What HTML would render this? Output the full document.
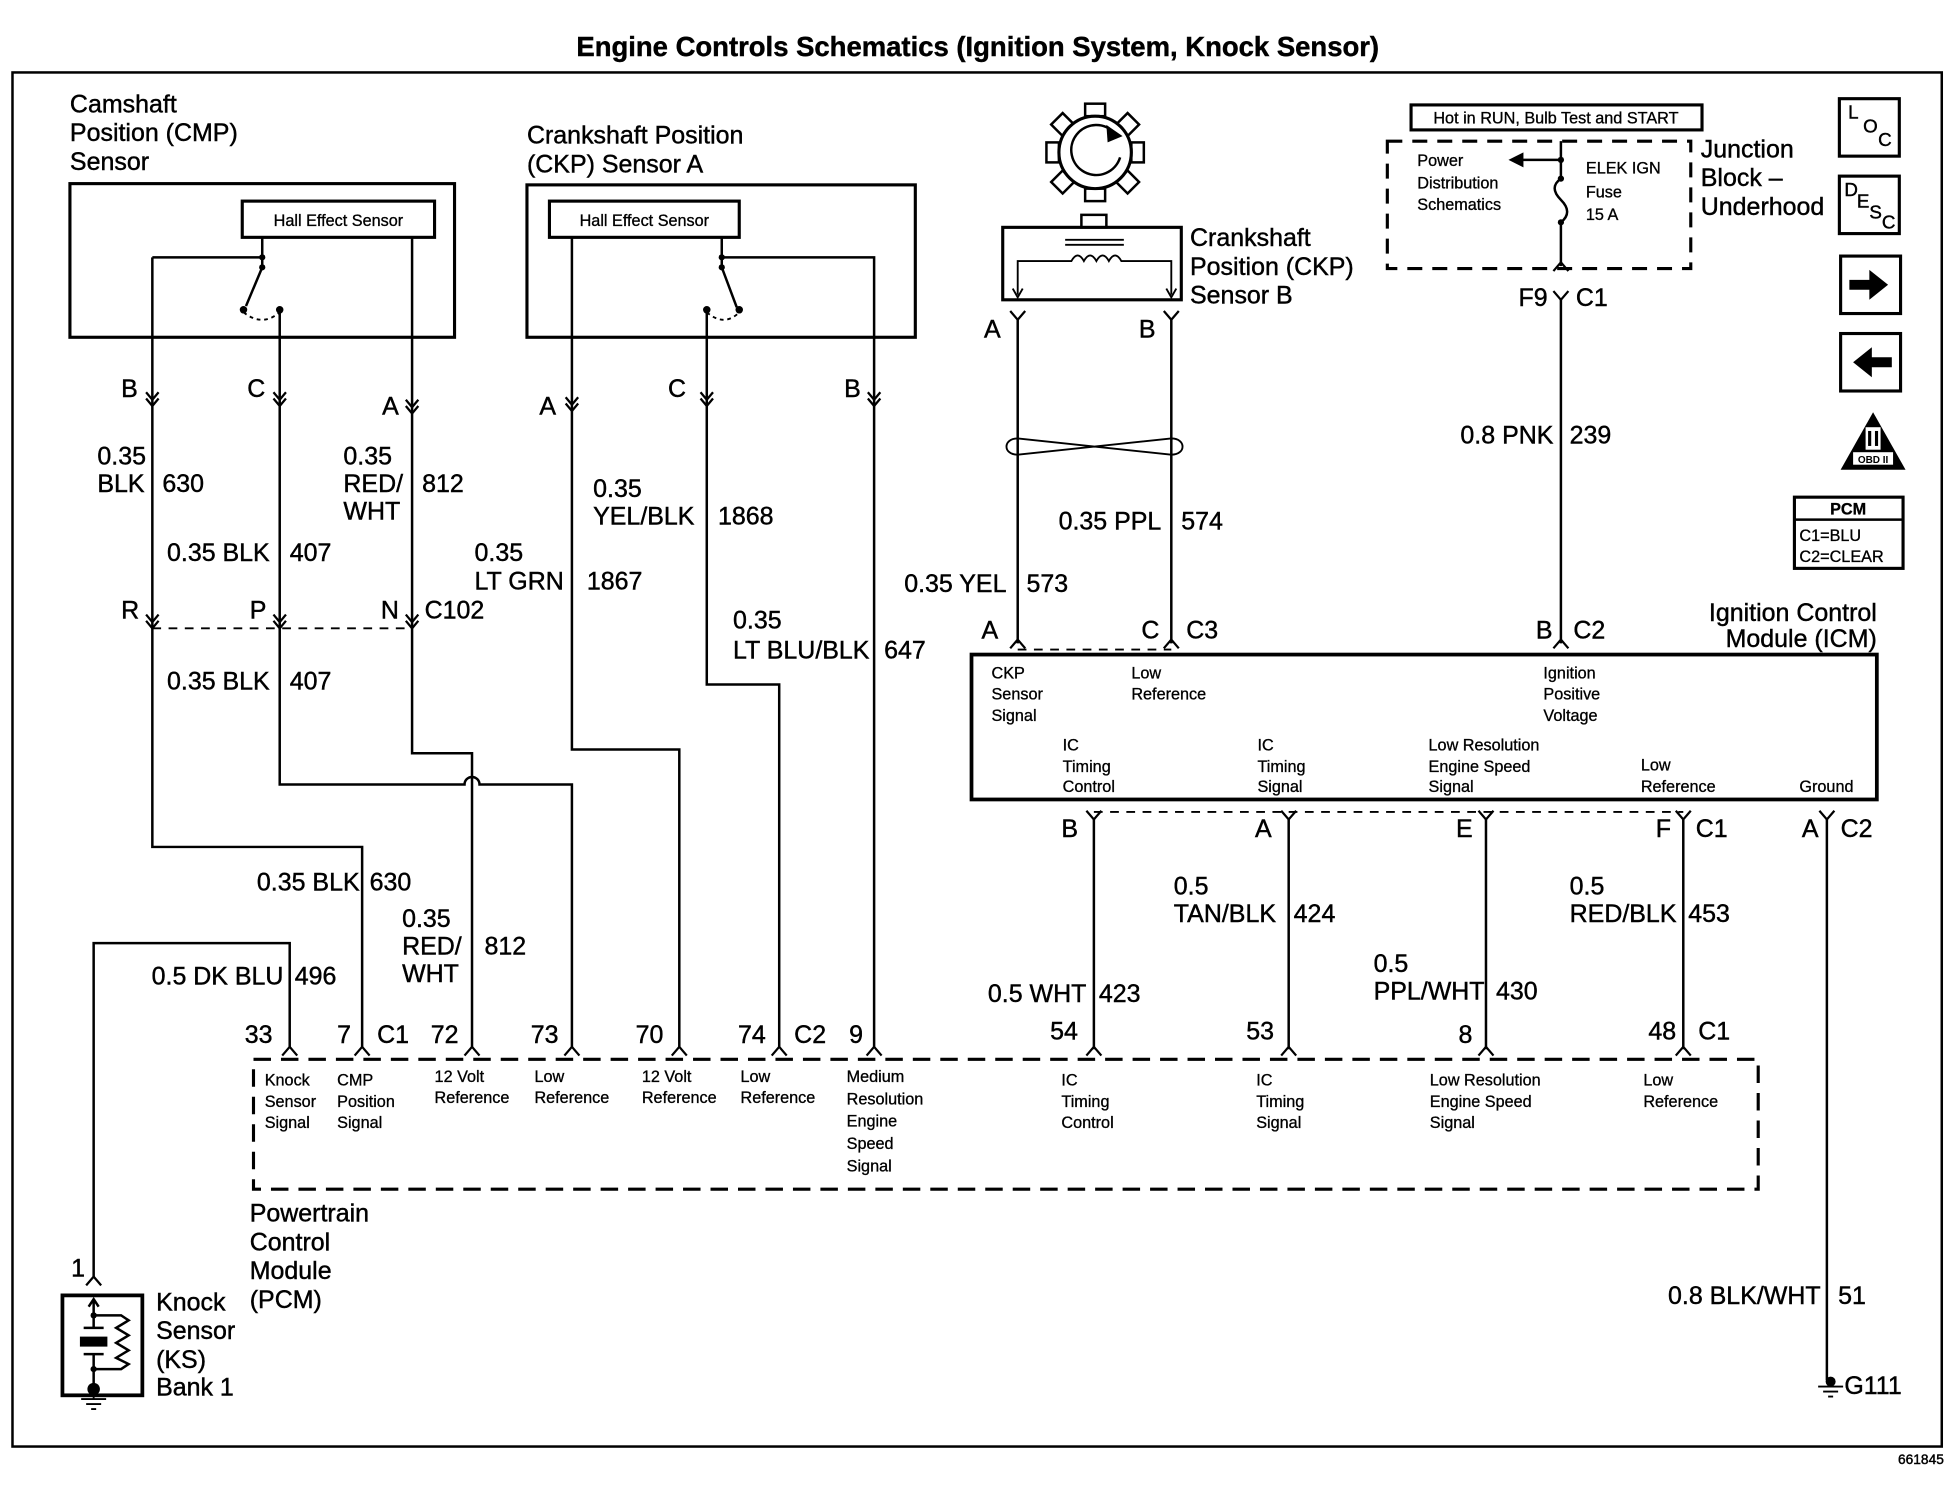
<!DOCTYPE html>
<html><head><meta charset="utf-8"><style>
html,body{margin:0;padding:0;background:#fff;}
svg{display:block;}
text{font-family:"Liberation Sans",Arial,sans-serif;fill:#000;stroke:#000;stroke-width:0.35px;}
.l{font-size:20px;}
.s{font-size:13px;}
.s text{stroke-width:0.25px;}
.e{text-anchor:end;}
</style></head><body>
<svg width="1958" height="1504" viewBox="0 0 1568 1204" preserveAspectRatio="none" xmlns="http://www.w3.org/2000/svg">
<defs>
<path id="dc" d="M-5,-8 L0,-2 L5,-8 M-5,-3 L0,3 L5,-3" fill="none" stroke="#000" stroke-width="1.8"/>
<path id="iv" d="M-6,7 L0,0 L6,7" fill="none" stroke="#000" stroke-width="1.8"/>
<path id="yy" d="M-6,-7 L0,0 L6,-7" fill="none" stroke="#000" stroke-width="1.8"/>
</defs>
<rect width="1568" height="1204" fill="#fff"/>
<text x="783" y="45" text-anchor="middle" style="font-size:22px;font-weight:bold">Engine Controls Schematics (Ignition System, Knock Sensor)</text>
<rect x="10" y="58" width="1545" height="1100" fill="none" stroke="#000" stroke-width="2"/>
<text x="1520" y="1172" style="font-size:11px">661845</text>

<g fill="none" stroke="#000" stroke-width="2">
<rect x="56" y="147" width="308" height="123" stroke-width="2.5"/>
<rect x="194" y="161" width="154" height="29" stroke-width="2.5"/>
<path d="M122,206 H210 M210,190 V214 L197,245 M224,248 V628 H372 A6,6 0 0 1 384,628 H458 V838 M330,190 V603 H378 V838 M122,206 V678 H290 V838"/>
<path d="M195,250 Q210,262 224,250" stroke-dasharray="3,3" stroke-width="1.5"/>
<path d="M122,503 H330" stroke-dasharray="7,6" stroke-width="1.5"/>
<rect x="422" y="148" width="311" height="122" stroke-width="2.5"/>
<rect x="440" y="161" width="152" height="29" stroke-width="2.5"/>
<path d="M458,190 V600 H544 V838 M578,190 V214 L590,246 M578,206 H700 V838 M566,248 V548 H624 V838"/>
<path d="M566,250 Q580,262 592,250" stroke-dasharray="3,3" stroke-width="1.5"/>
<path d="M232,838 V755 H75 V1022"/>
<rect x="803" y="182" width="143" height="58" stroke-width="2.5"/>
<rect x="866" y="172" width="20" height="10" stroke-width="2"/>
<path d="M853,192 H900 M853,196 H900" stroke-width="1.5"/>
<path d="M815,236 V209 H858 Q863,200 868,209 Q873,200 878,209 Q883,200 888,209 Q893,200 898,209 H938 V236" stroke-width="1.5"/>
<path d="M811,231 L815,238 L819,231 M934,231 L938,238 L942,231" stroke-width="1.5"/>
<path d="M815,256 V515 M938,256 V515"/>
<path d="M815,351 L938,364 M815,364 L938,351 M815,351 C803,351 803,364 815,364 M938,351 C950,351 950,364 938,364" stroke-width="1.5"/>
<path d="M815,520 H938" stroke-dasharray="7,6" stroke-width="1.5"/>
<rect x="778" y="524" width="725" height="116" stroke-width="3"/>
<path d="M876,655 V840 M1032,655 V840 M1190,655 V840 M1348,655 V840 M1463,655 V1105"/>
<path d="M876,650 H1348" stroke-dasharray="7,6" stroke-width="1.5"/>
<rect x="1130" y="84" width="233" height="20" stroke-width="2.5"/>
<rect x="1111" y="113" width="243" height="102" stroke-dasharray="12,8" stroke-width="2.5"/>
<path d="M1250,113 V143 Q1240,150 1250,160 Q1260,170 1250,178 V213 M1250,128 H1216"/>
<path d="M1250,240 V515"/>
<rect x="203" y="848" width="1205" height="104" stroke-dasharray="14,8" stroke-width="2.5"/>
<rect x="1473" y="79" width="48" height="46" stroke-width="2.5"/>
<rect x="1473" y="141" width="48" height="46" stroke-width="2.5"/>
<rect x="1474" y="205" width="48" height="46" stroke-width="2.5"/>
<rect x="1474" y="267" width="48" height="46" stroke-width="2.5"/>
<rect x="1437" y="398" width="87" height="57" stroke-width="2.5"/>
<path d="M1437,416 H1524" stroke-width="2"/>
<rect x="50" y="1037" width="64" height="80" stroke-width="3"/>
<path d="M75,1041 V1053 H97 L103,1057 L93,1063 L103,1069 L93,1075 L103,1081 L93,1087 L103,1092 L97,1096 H75 V1112 M75,1053 V1063 M67,1063 H83 M67,1084 H83 M75,1084 V1096 M71,1046 L75,1040 L79,1046"/>
<path d="M75,1115 V1120 M65,1120 H85 M69,1124 H81 M73,1128 H77" stroke-width="1.5"/>
<path d="M1466,1106 V1110 M1456,1110 H1476 M1460,1114 H1472 M1464,1118 H1468" stroke-width="1.5"/>
</g>
<g fill="#000">
<circle cx="210" cy="206" r="2.5"/><circle cx="210" cy="214" r="2.5"/><circle cx="195" cy="248" r="3"/><circle cx="224" cy="248" r="3"/>
<circle cx="578" cy="206" r="2.5"/><circle cx="578" cy="214" r="2.5"/><circle cx="592" cy="248" r="3"/><circle cx="566" cy="248" r="3"/>
<circle cx="1250" cy="128" r="2.5"/><circle cx="1250" cy="143" r="2.5"/><circle cx="1250" cy="178" r="2.5"/>
<path d="M1208,128 L1220,122 L1220,134 Z"/>
<rect x="64" y="1070" width="22" height="8"/>
<circle cx="75" cy="1053" r="2.5"/><circle cx="75" cy="1096" r="2.5"/><circle cx="75" cy="1112" r="5"/>
<circle cx="1466" cy="1106" r="4"/>
<path d="M1481,224 H1497 V216 L1512,228 L1497,240 V232 H1481 Z"/>
<path d="M1515,286 H1499 V278 L1484,290 L1499,302 V294 H1515 Z"/>
<path d="M1500,330 L1474,376 L1526,376 Z"/>
</g>
<g fill="#fff" stroke="#000" stroke-width="2">
<rect x="869" y="83" width="16" height="10"/><rect x="869" y="151" width="16" height="10"/>
<rect x="838" y="114" width="10" height="16"/><rect x="906" y="114" width="10" height="16"/>
<rect x="845" y="93" width="13" height="13" transform="rotate(45 851 99)"/>
<rect x="897" y="93" width="13" height="13" transform="rotate(45 903 99)"/>
<rect x="845" y="139" width="13" height="13" transform="rotate(45 851 145)"/>
<rect x="897" y="139" width="13" height="13" transform="rotate(45 903 145)"/>
</g>
<circle cx="877" cy="122" r="29" fill="#fff" stroke="#000" stroke-width="2.5"/>
<path d="M893,107 A20,20 0 1 0 897,126" fill="none" stroke="#000" stroke-width="2"/>
<path d="M886,100 L899,109 L887,114 Z" fill="#000"/>
<!-- OBD icon details -->
<rect x="1494" y="342" width="12" height="18" fill="#fff"/>
<rect x="1496" y="345" width="2.5" height="12" fill="#000"/><rect x="1501.5" y="345" width="2.5" height="12" fill="#000"/>
<rect x="1484" y="362" width="32" height="10" fill="#fff"/>
<text x="1500" y="370.5" text-anchor="middle" style="font-size:8px;font-weight:bold;stroke-width:0">OBD II</text>

<use href="#dc" x="122" y="322"/><use href="#dc" x="224" y="322"/><use href="#dc" x="330" y="328"/>
<use href="#dc" x="122" y="500"/><use href="#dc" x="224" y="500"/><use href="#dc" x="330" y="500"/>
<use href="#dc" x="458" y="326"/><use href="#dc" x="566" y="322"/><use href="#dc" x="700" y="322"/>
<use href="#yy" x="815" y="256"/><use href="#yy" x="938" y="256"/>
<use href="#iv" x="815" y="512"/><use href="#iv" x="938" y="512"/><use href="#iv" x="1250" y="512"/>
<use href="#yy" x="1250" y="240"/>
<use href="#iv" x="1250" y="210"/>
<use href="#yy" x="876" y="656"/><use href="#yy" x="1032" y="656"/><use href="#yy" x="1190" y="656"/><use href="#yy" x="1348" y="656"/><use href="#yy" x="1463" y="656"/>
<use href="#iv" x="232" y="838"/><use href="#iv" x="290" y="838"/><use href="#iv" x="378" y="838"/><use href="#iv" x="458" y="838"/><use href="#iv" x="544" y="838"/><use href="#iv" x="624" y="838"/><use href="#iv" x="700" y="838"/><use href="#iv" x="876" y="838"/><use href="#iv" x="1032" y="838"/><use href="#iv" x="1190" y="838"/><use href="#iv" x="1348" y="838"/>
<use href="#iv" x="75" y="1022"/>

<g class="l">
<text x="56" y="90">Camshaft</text><text x="56" y="113">Position (CMP)</text><text x="56" y="136">Sensor</text>
<text x="422" y="115">Crankshaft Position</text><text x="422" y="138">(CKP) Sensor A</text>
<text x="953" y="197">Crankshaft</text><text x="953" y="220">Position (CKP)</text><text x="953" y="243">Sensor B</text>
<text x="1362" y="126">Junction</text><text x="1362" y="149">Block –</text><text x="1362" y="172">Underhood</text>
<text x="1503" y="497" class="e">Ignition Control</text><text x="1503" y="518" class="e">Module (ICM)</text>
<text x="97" y="318">B</text><text x="198" y="318">C</text><text x="306" y="332">A</text>
<text x="78" y="372">0.35</text><text x="78" y="394">BLK</text><text x="130" y="394">630</text>
<text x="216" y="449" class="e">0.35 BLK</text><text x="232" y="449">407</text>
<text x="275" y="372">0.35</text><text x="275" y="394">RED/</text><text x="275" y="416">WHT</text><text x="338" y="394">812</text>
<text x="97" y="495">R</text><text x="200" y="495">P</text><text x="305" y="495">N</text><text x="340" y="495">C102</text>
<text x="216" y="552" class="e">0.35 BLK</text><text x="232" y="552">407</text>
<text x="288" y="713" class="e">0.35 BLK</text><text x="296" y="713">630</text>
<text x="322" y="742">0.35</text><text x="322" y="764">RED/</text><text x="322" y="786">WHT</text><text x="388" y="764">812</text>
<text x="227" y="788" class="e">0.5 DK BLU</text><text x="236" y="788">496</text>
<text x="432" y="332">A</text><text x="535" y="318">C</text><text x="676" y="318">B</text>
<text x="475" y="398">0.35</text><text x="475" y="420">YEL/BLK</text><text x="575" y="420">1868</text>
<text x="380" y="449">0.35</text><text x="380" y="472">LT GRN</text><text x="470" y="472">1867</text>
<text x="587" y="503">0.35</text><text x="587" y="527">LT BLU/BLK</text><text x="708" y="527">647</text>
<text x="788" y="270">A</text><text x="912" y="270">B</text>
<text x="930" y="424" class="e">0.35 PPL</text><text x="946" y="424">574</text>
<text x="806" y="474" class="e">0.35 YEL</text><text x="822" y="474">573</text>
<text x="786" y="511">A</text><text x="914" y="511">C</text><text x="950" y="511">C3</text>
<text x="1216" y="245">F9</text><text x="1262" y="245">C1</text>
<text x="1244" y="355" class="e">0.8 PNK</text><text x="1257" y="355">239</text>
<text x="1230" y="511">B</text><text x="1260" y="511">C2</text>
<text x="850" y="670">B</text><text x="1005" y="670">A</text><text x="1166" y="670">E</text><text x="1326" y="670">F</text><text x="1358" y="670">C1</text><text x="1443" y="670">A</text><text x="1474" y="670">C2</text>
<text x="870" y="802" class="e">0.5 WHT</text><text x="880" y="802">423</text>
<text x="940" y="716">0.5</text><text x="940" y="738">TAN/BLK</text><text x="1036" y="738">424</text>
<text x="1100" y="778">0.5</text><text x="1100" y="800">PPL/WHT</text><text x="1198" y="800">430</text>
<text x="1257" y="716">0.5</text><text x="1257" y="738">RED/BLK</text><text x="1352" y="738">453</text>
<text x="1458" y="1044" class="e">0.8 BLK/WHT</text><text x="1472" y="1044">51</text>
<text x="1477" y="1116">G111</text>
<text x="196" y="835">33</text><text x="270" y="835">7</text><text x="302" y="835">C1</text><text x="345" y="835">72</text><text x="425" y="835">73</text><text x="509" y="835">70</text><text x="591" y="835">74</text><text x="636" y="835">C2</text><text x="680" y="835">9</text>
<text x="841" y="832">54</text><text x="998" y="832">53</text><text x="1168" y="835">8</text><text x="1320" y="832">48</text><text x="1360" y="832">C1</text>
<text x="200" y="978">Powertrain</text><text x="200" y="1001">Control</text><text x="200" y="1024">Module</text><text x="200" y="1047">(PCM)</text>
<text x="57" y="1022">1</text>
<text x="125" y="1049">Knock</text><text x="125" y="1072">Sensor</text><text x="125" y="1095">(KS)</text><text x="125" y="1117">Bank 1</text>
</g>
<g class="s">
<text x="271" y="181" text-anchor="middle">Hall Effect Sensor</text>
<text x="516" y="181" text-anchor="middle">Hall Effect Sensor</text>
<text x="1246" y="99" text-anchor="middle">Hot in RUN, Bulb Test and START</text>
<text x="1135" y="133">Power</text><text x="1135" y="151">Distribution</text><text x="1135" y="168">Schematics</text>
<text x="1270" y="139">ELEK IGN</text><text x="1270" y="158">Fuse</text><text x="1270" y="176">15 A</text>
<text x="794" y="543">CKP</text><text x="794" y="560">Sensor</text><text x="794" y="577">Signal</text>
<text x="906" y="543">Low</text><text x="906" y="560">Reference</text>
<text x="1236" y="543">Ignition</text><text x="1236" y="560">Positive</text><text x="1236" y="577">Voltage</text>
<text x="851" y="601">IC</text><text x="851" y="618">Timing</text><text x="851" y="634">Control</text>
<text x="1007" y="601">IC</text><text x="1007" y="618">Timing</text><text x="1007" y="634">Signal</text>
<text x="1144" y="601">Low Resolution</text><text x="1144" y="618">Engine Speed</text><text x="1144" y="634">Signal</text>
<text x="1314" y="617">Low</text><text x="1314" y="634">Reference</text>
<text x="1441" y="634">Ground</text>
<text x="212" y="869">Knock</text><text x="212" y="886">Sensor</text><text x="212" y="903">Signal</text>
<text x="270" y="869">CMP</text><text x="270" y="886">Position</text><text x="270" y="903">Signal</text>
<text x="348" y="866">12 Volt</text><text x="348" y="883">Reference</text>
<text x="428" y="866">Low</text><text x="428" y="883">Reference</text>
<text x="514" y="866">12 Volt</text><text x="514" y="883">Reference</text>
<text x="593" y="866">Low</text><text x="593" y="883">Reference</text>
<text x="678" y="866">Medium</text><text x="678" y="884">Resolution</text><text x="678" y="902">Engine</text><text x="678" y="920">Speed</text><text x="678" y="938">Signal</text>
<text x="850" y="869">IC</text><text x="850" y="886">Timing</text><text x="850" y="903">Control</text>
<text x="1006" y="869">IC</text><text x="1006" y="886">Timing</text><text x="1006" y="903">Signal</text>
<text x="1145" y="869">Low Resolution</text><text x="1145" y="886">Engine Speed</text><text x="1145" y="903">Signal</text>
<text x="1316" y="869">Low</text><text x="1316" y="886">Reference</text>
<text x="1441" y="433">C1=BLU</text><text x="1441" y="450">C2=CLEAR</text>
<text x="1480" y="412" text-anchor="middle" style="font-weight:bold">PCM</text>
</g>
<g style="font-size:15px">
<text x="1480" y="95">L</text><text x="1492" y="106">O</text><text x="1504" y="117">C</text>
<text x="1477" y="157">D</text><text x="1487" y="166">E</text><text x="1497" y="175">S</text><text x="1507" y="183">C</text>
</g>
</svg>
</body></html>
